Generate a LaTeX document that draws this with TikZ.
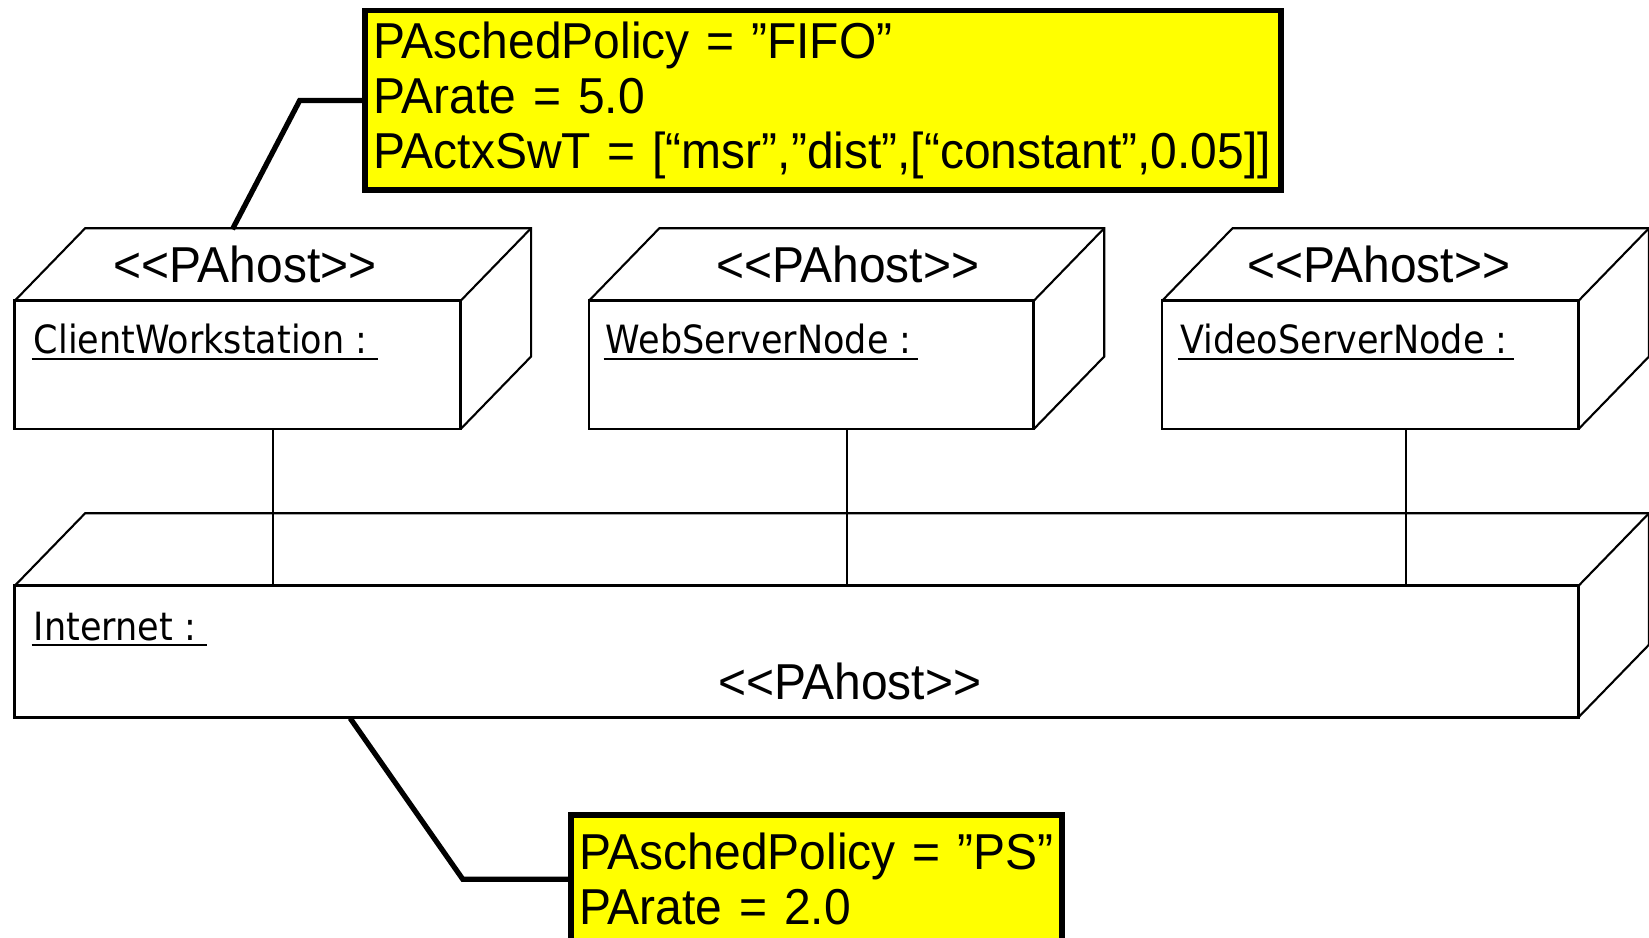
\documentclass[tikz,border=0pt]{standalone}
\usepackage{fontspec}
\setmainfont{Liberation Sans}
\newfontfamily\notefont[FakeStretch=0.95]{Liberation Sans}
\newfontfamily\pixfont[FakeStretch=0.9]{DejaVu Sans}
\usetikzlibrary{calc}
\definecolor{noteyellow}{RGB}{255,255,0}
\newcommand\cubeback[1]{%
  \draw[edge] (#1.north west) -- ++(67,-69) -- ($(#1.north east)+(67,-69)$)
     -- ($(#1.south east)+(67,-69)$) -- (#1.south east);
  \draw[edge] (#1.north east) -- ++(67,-69);
}
\begin{document}
\begin{tikzpicture}[x=1pt,y=-1pt,
  face/.style={draw, line width=2.6pt, fill=white, inner sep=0pt, outer sep=0pt, anchor=north west},
  edge/.style={line width=2pt},
  stereo/.style={font=\notefont\fontsize{48}{52}\selectfont, inner sep=0pt},
  inst/.style={font=\pixfont\fontsize{37}{40}\selectfont, inner sep=0pt, anchor=base west},
  uline/.style={line width=2pt},
  note/.style={draw, line width=5.5pt, fill=noteyellow, anchor=north west, align=left,
    inner xsep=8pt, inner ysep=0pt, outer sep=0pt, font=\notefont\fontsize{48}{52}\selectfont},
  conn/.style={line width=5pt},
  link/.style={line width=2pt}]
\useasboundingbox (0,0) rectangle (1568,891);

% host boxes
\node[face, minimum width=424pt, minimum height=122pt] (client) at (14,286) {};
\cubeback{client}
\node[face, minimum width=423pt, minimum height=122pt] (web) at (560,286) {};
\cubeback{web}
\node[face, minimum width=396pt, minimum height=122pt] (video) at (1105,286) {};
\cubeback{video}
\node[face, minimum width=1487pt, minimum height=125pt] (inet) at (14,557) {};
\cubeback{inet}

% stereotypes
\node[stereo] (st1) at (233,251) {<{}<PAhost>{}>};
\node[stereo] (st2) at (806,251) {<{}<PAhost>{}>};
\node[stereo] (st3) at (1311,251) {<{}<PAhost>{}>};
\node[stereo] (st4) at (808,648) {<{}<PAhost>{}>};

% instance names
\node[inst] (n1) at (32,336) {ClientWorkstation :};
\draw[uline] ($(n1.base west)+(-2,5)$) -- ($(n1.base east)+(10,5)$);
\node[inst] (n2) at (576,336) {WebServerNode :};
\draw[uline] ($(n2.base west)+(-2,5)$) -- ($(n2.base east)+(6,5)$);
\node[inst] (n3) at (1122,336) {VideoServerNode :};
\draw[uline] ($(n3.base west)+(-2,5)$) -- ($(n3.base east)+(6,5)$);
\node[inst] (n4) at (32,609) {Internet :};
\draw[uline] ($(n4.base west)+(-2,4)$) -- ($(n4.base east)+(10,4)$);

% links
\coordinate (l1) at (260,0);
\coordinate (l2) at (805,0);
\coordinate (l3) at (1337,0);
\draw[link] (client.south -| l1) -- (inet.north -| l1);
\draw[link] (web.south -| l2) -- (inet.north -| l2);
\draw[link] (video.south -| l3) -- (inet.north -| l3);

% notes
\node[note, text width=855pt, minimum height=171pt] (note1) at (347,10)
  {PAschedPolicy = ”FIFO”\\PArate = 5.0\\PActxSwT = [“msr”,”dist”,[“constant”,0.05]]};
\node[note, text width=451pt, minimum height=122pt] (note2) at (543,775)
  {PAschedPolicy = ”PS”\\PArate = 2.0};

% note connectors
\coordinate (ctop) at (221,218);
\coordinate (ibot) at (333,683);
\draw[conn, line join=miter] (note1.west) -- ++(-62,0) -- (ctop);
\draw[conn, line join=miter] (note2.west) -- ++(-103,0) -- (ibot);
\end{tikzpicture}
\end{document}
